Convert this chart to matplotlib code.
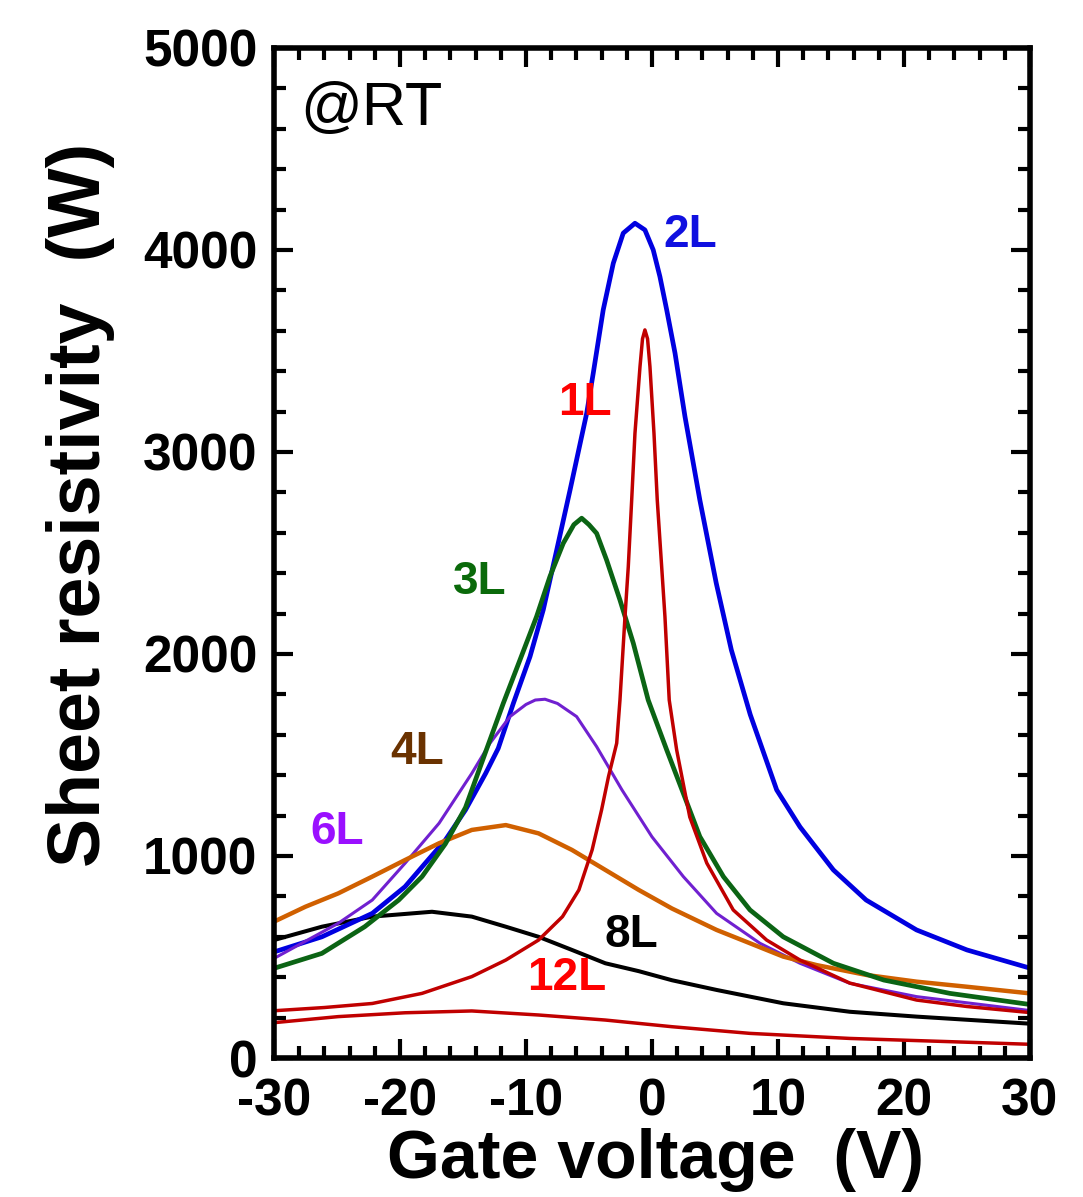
import matplotlib
matplotlib.use("Agg")
import matplotlib.pyplot as plt
from matplotlib.ticker import MultipleLocator

plt.rcParams['font.family'] = ['Liberation Sans', 'DejaVu Sans']
plt.rcParams['axes.unicode_minus'] = False

# sheet resistivity (ohm) vs gate voltage (V)
x_1L = [-30, -26, -22.2, -18.25, -14.3, -11.6, -9.0, -7.1, -5.8, -4.75, -4.0, -3.45, -2.8, -2.54,
        -2.14, -1.88, -1.61, -1.35, -0.95, -0.75, -0.56, -0.35, -0.16, 0.16, 0.42, 0.77, 1.03,
        1.37, 1.96, 3.0, 4.35, 6.45, 9.1, 11.75, 15.7, 21.0, 25.0, 30]
y_1L = [234, 250, 270, 320, 403, 485, 584, 700, 832, 1030, 1228, 1393, 1558, 1772,
        2185, 2432, 2762, 3092, 3422, 3560, 3604, 3560, 3422, 3092, 2762, 2432, 2185,
        1772, 1525, 1193, 965, 733, 584, 485, 371, 287, 255, 225]

x_2L = [-30, -26.2, -22.2, -19.6, -18.0, -16.4, -14.8, -13.2, -12.2, -11.0, -9.68, -8.63, -7.56,
        -6.5, -5.18, -4.66, -3.87, -3.07, -2.28, -1.35, -0.56, 0.1, 0.63, 1.17, 1.83, 2.62, 3.8,
        5.1, 6.3, 7.8, 9.9, 11.75, 14.4, 17.0, 21.0, 25.0, 30]
y_2L = [525, 600, 716, 848, 964, 1079, 1228, 1409, 1533, 1756, 1987, 2218, 2515,
        2812, 3192, 3390, 3703, 3934, 4083, 4132, 4099, 4000, 3868, 3703, 3489, 3175, 2762,
        2351, 2020, 1700, 1327, 1144, 931, 782, 634, 535, 445]

x_3L = [-30, -26.2, -22.8, -20.1, -18.25, -16.4, -14.8, -13.1, -11.8, -10.48, -9.16, -8.1, -7.04,
        -6.2, -5.58, -5.0, -4.39, -3.6, -2.54, -1.48, -0.3, 1.17, 2.49, 3.8, 5.67, 7.78, 10.42,
        14.4, 18.4, 23.65, 30]
y_3L = [444, 518, 650, 782, 898, 1060, 1240, 1533, 1756, 1970, 2185, 2383, 2548,
        2640, 2672, 2640, 2597, 2465, 2267, 2053, 1772, 1525, 1310, 1096, 898, 733, 600,
        469, 386, 320, 265]

x_4L = [-30, -27.5, -24.9, -22.2, -19.6, -16.9, -14.3, -11.6, -9.0, -6.35, -3.7, -1.05, 1.59,
        5.13, 7.78, 10.42, 13.07, 17.04, 21.0, 24.97, 30]
y_4L = [675, 749, 815, 898, 980, 1063, 1129, 1153, 1112, 1030, 931, 832, 740,
        634, 568, 502, 460, 411, 378, 353, 320]

x_6L = [-30, -24.9, -22.2, -19.6, -16.9, -14.3, -12.86, -11.27, -10.0, -9.26, -8.49, -7.5,
        -5.98, -4.39, -2.38, 0.0, 2.49, 5.13, 8.57, 11.75, 15.7, 21.0, 30]
y_6L = [493, 667, 782, 964, 1162, 1409, 1558, 1690, 1750, 1772, 1776, 1755,
        1690, 1541, 1327, 1095, 898, 716, 568, 469, 370, 304, 235]

x_8L = [-30, -26.2, -22.2, -17.46, -14.3, -11.6, -9.0, -6.35, -3.7, -1.05, 1.59, 5.13, 10.42,
        15.7, 21.0, 30]
y_8L = [584, 650, 700, 724, 700, 650, 600, 535, 469, 430, 385, 337, 271,
        229, 205, 170]

x_12L = [-30, -24.9, -19.6, -14.3, -9.0, -3.7, 1.59, 7.78, 15.7, 23.65, 30]
y_12L = [175, 205, 224, 233, 213, 188, 155, 122, 97, 81, 68]

fig = plt.figure(figsize=(10.83, 11.97), dpi=100)
ax = fig.add_axes([0.253, 0.1161, 0.698, 0.8439])

ax.plot(x_12L, y_12L, color='#c00000', lw=2.5)
ax.plot(x_8L, y_8L, color='black', lw=2.9)
ax.plot(x_2L, y_2L, color='#0000e0', lw=3.4)
ax.plot(x_6L, y_6L, color='#7020d0', lw=2.2)
ax.plot(x_4L, y_4L, color='#d06000', lw=3.2)
ax.plot(x_3L, y_3L, color='#0b6414', lw=3.4)
ax.plot(x_1L, y_1L, color='#c00000', lw=2.5)

lab = dict(fontsize=33, fontweight='bold', ha='center', va='center')
ax.text(3.0, 4075, '2L', color='#1010e0', **lab)
ax.text(-5.3, 3243, '1L', color='#ff0000', **lab)
ax.text(-13.65, 2356, '3L', color='#0a6a0a', **lab)
ax.text(-18.65, 1515, '4L', color='#6a3200', **lab)
ax.text(-25.0, 1119, '6L', color='#9a10ff', **lab)
ax.text(-1.6, 609, '8L', color='black', **lab)
ax.text(-6.75, 396, '12L', color='#ff0000', **lab)
ax.text(0.035, 0.967, '@RT', transform=ax.transAxes, fontsize=44, ha='left', va='top')

ax.set_xlim(-30, 30)
ax.set_ylim(0, 5000)
ax.xaxis.set_major_locator(MultipleLocator(10))
ax.xaxis.set_minor_locator(MultipleLocator(2))
ax.yaxis.set_major_locator(MultipleLocator(1000))
ax.yaxis.set_minor_locator(MultipleLocator(200))
ax.tick_params(which='both', direction='in', top=True, right=True, width=3)
ax.tick_params(which='major', length=14, labelsize=37)
ax.tick_params(which='minor', length=8.5)
ax.tick_params(axis='x', which='major', pad=14)
ax.tick_params(axis='y', which='major', pad=12)
for t in ax.get_xticklabels() + ax.get_yticklabels():
    t.set_fontweight('bold')
for s in ax.spines.values():
    s.set_linewidth(4)

ax.set_xlabel('Gate voltage  (V)', fontsize=49, fontweight='bold')
ax.set_ylabel('Sheet resistivity  (W)', fontsize=53, fontweight='bold')
ax.xaxis.set_label_coords(0.505, -0.069)
ax.yaxis.set_label_coords(-0.21, 0.548)

fig.savefig('out.png', dpi=100)
